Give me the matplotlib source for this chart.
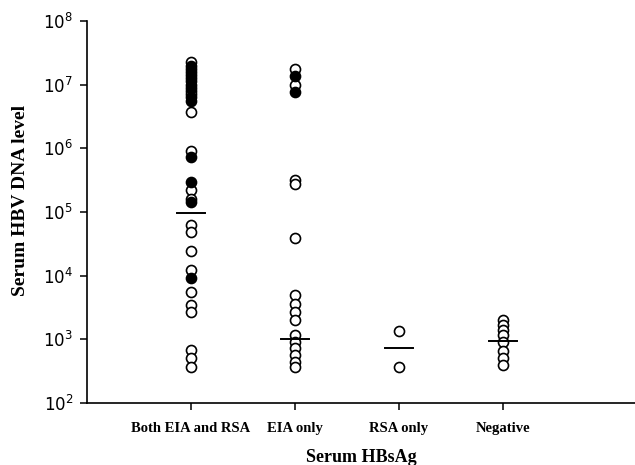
import numpy as np
import matplotlib.pyplot as plt
from matplotlib.ticker import NullLocator, FixedLocator

groups = ["Both EIA and RSA", "EIA only", "RSA only", "Negative"]

# log10 of serum HBV DNA
open_pts = [
    [7.36, 6.90, 6.86, 6.57, 5.96, 5.34, 5.21, 4.79, 4.69, 4.38, 4.09,
     3.75, 3.54, 3.43, 2.83, 2.70, 2.57],
    [7.25, 6.99, 5.50, 5.44, 4.59, 3.70, 3.56, 3.43, 3.30, 3.07, 2.96,
     2.86, 2.75, 2.65, 2.57],
    [3.13, 2.56],
    [3.30, 3.22, 3.15, 3.07, 2.96, 2.81, 2.70, 2.60],
]
filled_pts = [
    [7.30, 7.25, 7.20, 7.15, 7.10, 7.05, 7.00, 6.95, 6.80, 6.75, 5.87,
     5.47, 5.16, 3.96],
    [7.13, 6.89],
    [],
    [],
]
medians = [4.98, 3.00, 2.87, 2.97]

serif = "Liberation Serif"

fig = plt.figure(figsize=(6.35, 4.65), dpi=100)
ax = fig.add_axes([0.137, 0.1333, 0.863, 0.8217])

for i in range(len(groups)):
    x = i + 1
    op = 10 ** np.array(open_pts[i])
    ax.scatter(np.full(len(op), x), op, s=52, facecolors="white",
               edgecolors="black", linewidths=1.2, zorder=3)
    if filled_pts[i]:
        fp = 10 ** np.array(filled_pts[i])
        ax.scatter(np.full(len(fp), x), fp, s=52, facecolors="black",
                   edgecolors="black", linewidths=1.2, zorder=4)
    ax.plot([x - 0.135, x + 0.135], [10 ** medians[i]] * 2, color="black",
            lw=1.4, zorder=5)

ax.set_yscale("log")
ax.set_ylim(1e2, 1e8)
ax.set_xlim(0, 5.27)
ax.yaxis.set_major_locator(FixedLocator([10.0 ** k for k in range(2, 9)]))
ax.yaxis.set_minor_locator(NullLocator())
ax.set_xticks(range(1, 5))
ax.set_xticklabels(groups, fontfamily=serif, fontweight="bold", fontsize=10.5)

for s in ["top", "right"]:
    ax.spines[s].set_visible(False)
for s in ["left", "bottom"]:
    ax.spines[s].set_linewidth(1.2)
ax.tick_params(axis="both", direction="out", length=5, width=1.1)
ax.tick_params(axis="x", pad=9)
ax.tick_params(axis="y", labelsize=12, pad=5)

ax.set_ylabel("Serum HBV DNA level", fontfamily=serif, fontweight="bold",
              fontsize=14)
ax.yaxis.set_label_coords(-0.105, 0.53)
ax.set_xlabel("Serum HBsAg", fontfamily=serif, fontweight="bold",
              fontsize=13, labelpad=10)

fig.savefig("out.png", dpi=100)
